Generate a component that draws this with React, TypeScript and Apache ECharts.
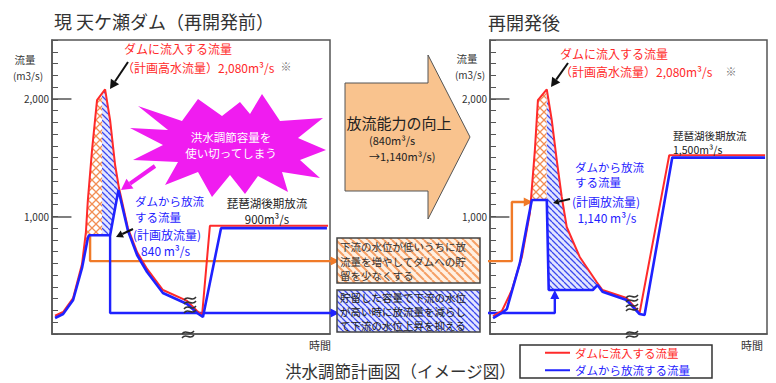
import React, { useEffect, useRef } from 'react';
import * as echarts from 'echarts';

// ---------- data (time in arbitrary units 0..100, flow in m3/s) ----------
const yTickLabels = ['1,000', '2,000'];
const majorTicks = [1000, 2000];

const beforeInflow: number[][] = [[1.1,155],[4.0,187],[7.6,306],[10.8,595],[12.2,867],[12.9,1139],[14.4,1564],[16.2,1989],[19.1,2080],[20.9,1819],[22.7,1437],[24.1,1241],[27.3,901],[30.6,697],[34.2,553],[39.9,374],[48.6,281],[52.2,196],[54.0,162],[56.8,920],[99.3,920]];
const beforeOutflow: number[][] = [[1.1,136],[4.0,170],[7.6,289],[10.8,561],[12.9,816],[13.3,840],[20.9,840],[23.9,1225],[27.3,880],[30.6,672],[34.2,527],[39.9,349],[48.6,255],[52.2,179],[54.3,145],[60.8,900],[98.9,900]];
const beforeOrangeGuide: number[][] = [[13.7,840],[13.7,620],[101.8,620]];
const beforeBlueGuide: number[][] = [[20.9,840],[20.9,178],[101.8,178]];

const afterInflow: number[][] = [[1.1,153],[4.3,196],[7.9,374],[11.5,655],[14.4,1029],[16.2,1564],[17.3,1989],[20.5,2080],[22.3,1819],[24.1,1479],[25.9,1165],[27.7,910],[32.4,655],[38.5,442],[40.6,374],[49.3,306],[54.0,179],[64.7,1520],[99.3,1520]];
const afterOutflow: number[][] = [[1.1,136],[4.3,179],[6.1,213],[10.8,604],[13.7,969],[15.1,1140],[20.5,1140],[21.2,374],[37.1,374],[38.8,416],[40.6,360],[49.3,289],[54.0,170],[55.8,162],[65.8,1500],[99.3,1500]];
const afterOrangeGuide: number[][] = [[-3.6,620],[7.9,620],[7.9,1122],[13.8,1122]];
const afterBlueGuide: number[][] = [[-3.6,178],[23.4,178],[23.4,335]];

const inflowName = 'ダムに流入する流量';
const outflowName = 'ダムから放流する流量';

// ---------- helpers ----------
const FONT = '"Noto Sans CJK JP", "Noto Sans", sans-serif';
const RED = '#ff2a2a';
const BLUE = '#1f22ff';
const ORANGE = '#f07a28';

function interp(arr: number[][], t: number): number {
  for (let i = 0; i < arr.length - 1; i++) {
    const a = arr[i], b = arr[i + 1];
    if (t >= a[0] && t <= b[0]) {
      if (b[0] === a[0]) return a[1];
      return a[1] + (b[1] - a[1]) * (t - a[0]) / (b[0] - a[0]);
    }
  }
  return arr[arr.length - 1][1];
}
function sliceRange(arr: number[][], t0: number, t1: number): number[][] {
  const out = [[t0, interp(arr, t0)]];
  arr.forEach(p => { if (p[0] > t0 && p[0] < t1) out.push(p); });
  out.push([t1, interp(arr, t1)]);
  return out;
}
function makeCanvas(w: number, h: number, draw: (g: CanvasRenderingContext2D) => void) {
  const c = document.createElement('canvas');
  c.width = w; c.height = h;
  const g = c.getContext('2d')!;
  draw(g);
  return c;
}
function txt(text: string, x: number, y: number, size: number, color: string, align = 'left', weight = 'normal', lineHeight?: number) {
  const style: any = { text, font: `${weight} ${size}px ${FONT}`, fill: color, textAlign: align, textVerticalAlign: 'middle' };
  if (lineHeight) style.lineHeight = lineHeight;
  return { type: 'text', x, y, z: 120, style };
}
function arrow(x1: number, y1: number, x2: number, y2: number, color: string, w: number, head: number) {
  const ang = Math.atan2(y2 - y1, x2 - x1);
  const hx = x2 - head * Math.cos(ang), hy = y2 - head * Math.sin(ang);
  const px = Math.sin(ang) * head * 0.55, py = -Math.cos(ang) * head * 0.55;
  return [
    { type: 'line', z: 115, shape: { x1, y1, x2: hx, y2: hy }, style: { stroke: color, lineWidth: w } },
    { type: 'polygon', z: 115, shape: { points: [[x2, y2], [hx + px, hy + py], [hx - px, hy - py]] }, style: { fill: color } },
  ];
}
// axis-break mark (two small waves)
function breakMark(x: number, y: number) {
  const wave = (dy: number) => ({
    type: 'bezierCurve', z: 116,
    shape: { x1: x - 6, y1: y + dy + 2, cpx1: x - 2, cpy1: y + dy - 4, cpx2: x + 2, cpy2: y + dy + 5, x2: x + 6, y2: y + dy - 1 },
    style: { stroke: '#333', lineWidth: 1.4, fill: 'none' },
  });
  return [wave(-2), wave(2)];
}

export default function App() {
  const ref = useRef<HTMLDivElement>(null);
  useEffect(() => {
    if (!ref.current) return;
    const chart = echarts.init(ref.current, null, { renderer: 'svg' });

    const orangeX = makeCanvas(8, 8, g => {
      g.strokeStyle = '#f28e54'; g.lineWidth = 1.3;
      g.beginPath(); g.moveTo(0, 0); g.lineTo(8, 8); g.moveTo(8, 0); g.lineTo(0, 8); g.stroke();
    });
    const blueH = makeCanvas(6, 6, g => {
      g.fillStyle = '#e3e5ff'; g.fillRect(0, 0, 6, 6);
      g.strokeStyle = '#3a48ee'; g.lineWidth = 1.3;
      g.beginPath();
      [-6, 0, 6].forEach(k => { g.moveTo(k, 0); g.lineTo(k + 6, 6); });
      g.stroke();
    });
    const orangeStripe = makeCanvas(8, 8, g => {
      g.fillStyle = '#fff0e2'; g.fillRect(0, 0, 8, 8);
      g.strokeStyle = '#f5a066'; g.lineWidth = 2;
      g.beginPath();
      [-8, 0, 8].forEach(k => { g.moveTo(k, 0); g.lineTo(k + 8, 8); });
      g.stroke();
    });
    const pat = (c: HTMLCanvasElement) => ({ image: c, repeat: 'repeat', imageWidth: c.width, imageHeight: c.height });

    const region = (xi: number, upper: number[][], lower: number[][], t0: number, t1: number, fill: any, z: number) => ({
      type: 'custom', xAxisIndex: xi, yAxisIndex: xi, silent: true, z, clip: false,
      data: [[t0, interp(upper, t0)]],
      renderItem: (_p: any, api: any) => {
        const up = sliceRange(upper, t0, t1);
        const lo = sliceRange(lower, t0, t1).reverse();
        const pts = up.concat(lo).map(p => api.coord(p));
        return { type: 'polygon', shape: { points: pts }, style: { fill, stroke: 'none' } };
      },
    });

    const guide = (xi: number, pts: number[][], color: string, rot: number) => ({
      type: 'line', xAxisIndex: xi, yAxisIndex: xi, clip: false, silent: true, z: 5,
      showSymbol: true, showAllSymbol: true, symbol: 'none',
      lineStyle: { color, width: 2.4 }, itemStyle: { color },
      data: pts.map((p, i) => i === pts.length - 1
        ? { value: p, symbol: 'triangle', symbolSize: [9, 9], symbolRotate: rot }
        : { value: p, symbol: 'none' }),
    });

    const flow = (xi: number, name: string, data: number[][], color: string, width: number, z: number, withTicks: boolean) => ({
      type: 'line', name, xAxisIndex: xi, yAxisIndex: xi, data, z, silent: true,
      symbol: 'none', showSymbol: false, lineStyle: { color, width }, itemStyle: { color },
      markLine: withTicks ? {
        silent: true, symbol: ['none', 'none'], label: { show: false },
        lineStyle: { color: '#555', width: 1.5, type: 'solid' },
        data: majorTicks.map(v => [{ coord: [0, v] }, { coord: [7, v] }]),
      } : undefined,
    });

    const yAxis = (gi: number) => ({
      type: 'value', gridIndex: gi, min: 0, max: 2500, interval: 100,
      axisLine: { show: true, lineStyle: { color: '#555', width: 1.5 } },
      axisTick: { show: true, inside: true, length: 6, lineStyle: { color: '#555' } },
      axisLabel: {
        interval: 0, margin: 3, fontSize: 10, color: '#333', fontFamily: FONT,
        formatter: (v: number) => { const i = majorTicks.indexOf(v); return i >= 0 ? yTickLabels[i] : ''; },
      },
      splitLine: { show: false },
    });
    const xAxis = (gi: number) => ({
      type: 'value', gridIndex: gi, min: 0, max: 100,
      axisLine: { show: true, lineStyle: { color: '#555', width: 1.5 } },
      axisTick: { show: false }, axisLabel: { show: false }, splitLine: { show: false },
    });

    const star = [[138,106],[182,121],[198,99],[222,116],[240,102],[250,114],[262,94],[280,121],[323,118],[298,138],[326,150],[300,160],[320,178],[282,172],[288,192],[258,176],[245,194],[230,175],[212,197],[198,172],[165,185],[178,162],[133,160],[163,145],[130,128],[168,130]];

    const graphics: any[] = [
      txt('現 天ケ瀬ダム（再開発前）', 54, 21, 18, '#333'),
      txt('再開発後', 488, 22, 18, '#333'),
      txt('流量', 25, 59, 10.5, '#333', 'center'),
      txt('(m3/s)', 28, 75, 10, '#333', 'center'),
      txt('流量', 467, 58, 10.5, '#333', 'center'),
      txt('(m3/s)', 470, 74, 10, '#333', 'center'),
      txt('時間', 320, 345, 11, '#333', 'center'),
      txt('時間', 752, 345, 11, '#333', 'center'),
      // left annotations
      txt('ダムに流入する流量', 124, 48, 12, RED),
      txt('（計画高水流量）2,080m³/s', 122, 67, 12, RED),
      txt('※', 286, 66, 11, '#777', 'center'),
      ...arrow(128, 62, 110, 89, '#111', 2, 9),
      { type: 'polygon', z: 110, shape: { points: star }, style: { fill: '#f01cf0' } },
      txt('洪水調節容量を\n使い切ってしまう', 231, 145, 11.5, '#fff', 'center', 'normal', 15.5),
      ...arrow(155, 166, 121, 190, '#f01cf0', 4, 11),
      txt('ダムから放流\nする流量', 135, 209, 11.5, BLUE, 'left', 'normal', 15.5),
      txt('(計画放流量)\n   840 m³/s', 133, 242, 12, BLUE, 'left', 'normal', 16),
      ...arrow(133, 229, 116, 237, '#111', 2, 7),
      txt('琵琶湖後期放流\n900m³/s', 267, 211, 11.5, '#222', 'center', 'normal', 15.5),
      // break marks
      ...breakMark(190, 300),
      ...breakMark(190, 309),
      ...breakMark(188, 334),
      ...breakMark(632, 298),
      ...breakMark(632, 307),
      ...breakMark(632, 334),
      // center arrow
      { type: 'polygon', z: 100, shape: { points: [[345,83],[428,83],[428,55],[470,137],[428,219],[428,191],[345,191]] }, style: { fill: '#f9c38e', stroke: '#555', lineWidth: 1 } },
      txt('放流能力の向上', 399, 122, 15, '#222', 'center'),
      txt('(840m³/s\n→1,140m³/s)', 369, 148, 11, '#222', 'left', 'normal', 16),
      // center boxes
      { type: 'rect', z: 100, shape: { x: 337, y: 238, width: 143, height: 45 }, style: { fill: pat(orangeStripe), stroke: '#444', lineWidth: 1.5 } },
      txt('下流の水位が低いうちに放\n流量を増やしてダムへの貯\n留を少なくする', 340, 261, 10.5, '#333', 'left', 'normal', 14.5),
      { type: 'rect', z: 100, shape: { x: 337, y: 290, width: 143, height: 42 }, style: { fill: pat(blueH), stroke: '#444', lineWidth: 1.5 } },
      txt('貯留した容量で下流の水位\nが高い時に放流量を減らし\nて下流の水位上昇を抑える', 340, 311, 10.5, '#222', 'left', 'normal', 14),
      // right annotations
      txt('ダムに流入する流量', 560, 53, 12, RED),
      txt('（計画高水流量）2,080m³/s', 560, 71, 12, RED),
      txt('※', 731, 71, 11, '#777', 'center'),
      ...arrow(568, 63, 551, 87, '#111', 2, 9),
      txt('ダムから放流\nする流量', 575, 174.5, 11.5, BLUE, 'left', 'normal', 15.5),
      txt('(計画放流量)\n  1,140 m³/s', 572, 209, 12, BLUE, 'left', 'normal', 16),
      ...arrow(570, 199, 553, 203, '#111', 2, 6),
      txt('琵琶湖後期放流\n1,500m³/s', 673, 142, 10.5, '#222', 'left', 'normal', 14),
      // caption
      txt('洪水調節計画図（イメージ図）', 285, 371, 16.5, '#333'),
    ];

    chart.setOption({
      animation: false,
      backgroundColor: '#fff',
      grid: [
        { left: 52, top: 40, width: 278, height: 294, show: true, borderColor: '#555', borderWidth: 1.5, backgroundColor: 'transparent' },
        { left: 490, top: 40, width: 277, height: 294, show: true, borderColor: '#555', borderWidth: 1.5, backgroundColor: 'transparent' },
      ],
      xAxis: [xAxis(0), xAxis(1)],
      yAxis: [yAxis(0), yAxis(1)],
      legend: {
        left: 520, top: 345, orient: 'vertical', icon: 'rect', itemWidth: 25, itemHeight: 2, itemGap: 6,
        padding: [2, 22, 2, 25], borderColor: '#333', borderWidth: 1.5,
        textStyle: { fontSize: 11.5, fontFamily: FONT },
        data: [
          { name: inflowName, textStyle: { color: RED } },
          { name: outflowName, textStyle: { color: BLUE } },
        ],
      },
      series: [
        region(0, beforeInflow, beforeOutflow, 12.0, 20.9, pat(orangeX), 1),
        region(0, beforeInflow, beforeOutflow, 18.0, 23.9, pat(blueH), 2),
        region(1, afterInflow, afterOutflow, 14.8, 20.5, pat(orangeX), 1),
        region(1, afterInflow, afterOutflow, 20.5, 38.8, pat(blueH), 2),
        guide(0, beforeOrangeGuide, ORANGE, -90),
        guide(0, beforeBlueGuide, BLUE, -90),
        guide(1, afterOrangeGuide, ORANGE, -90),
        guide(1, afterBlueGuide, BLUE, 0),
        flow(0, inflowName, beforeInflow, RED, 2, 6, true),
        flow(0, outflowName, beforeOutflow, BLUE, 2.6, 7, false),
        flow(1, inflowName, afterInflow, RED, 2, 6, true),
        flow(1, outflowName, afterOutflow, BLUE, 2.6, 7, false),
      ],
      graphic: { elements: graphics },
    });
    return () => chart.dispose();
  }, []);
  return <div ref={ref} style={{ width: 776, height: 383, position: 'absolute', left: 0, top: 0 }} />;
}
